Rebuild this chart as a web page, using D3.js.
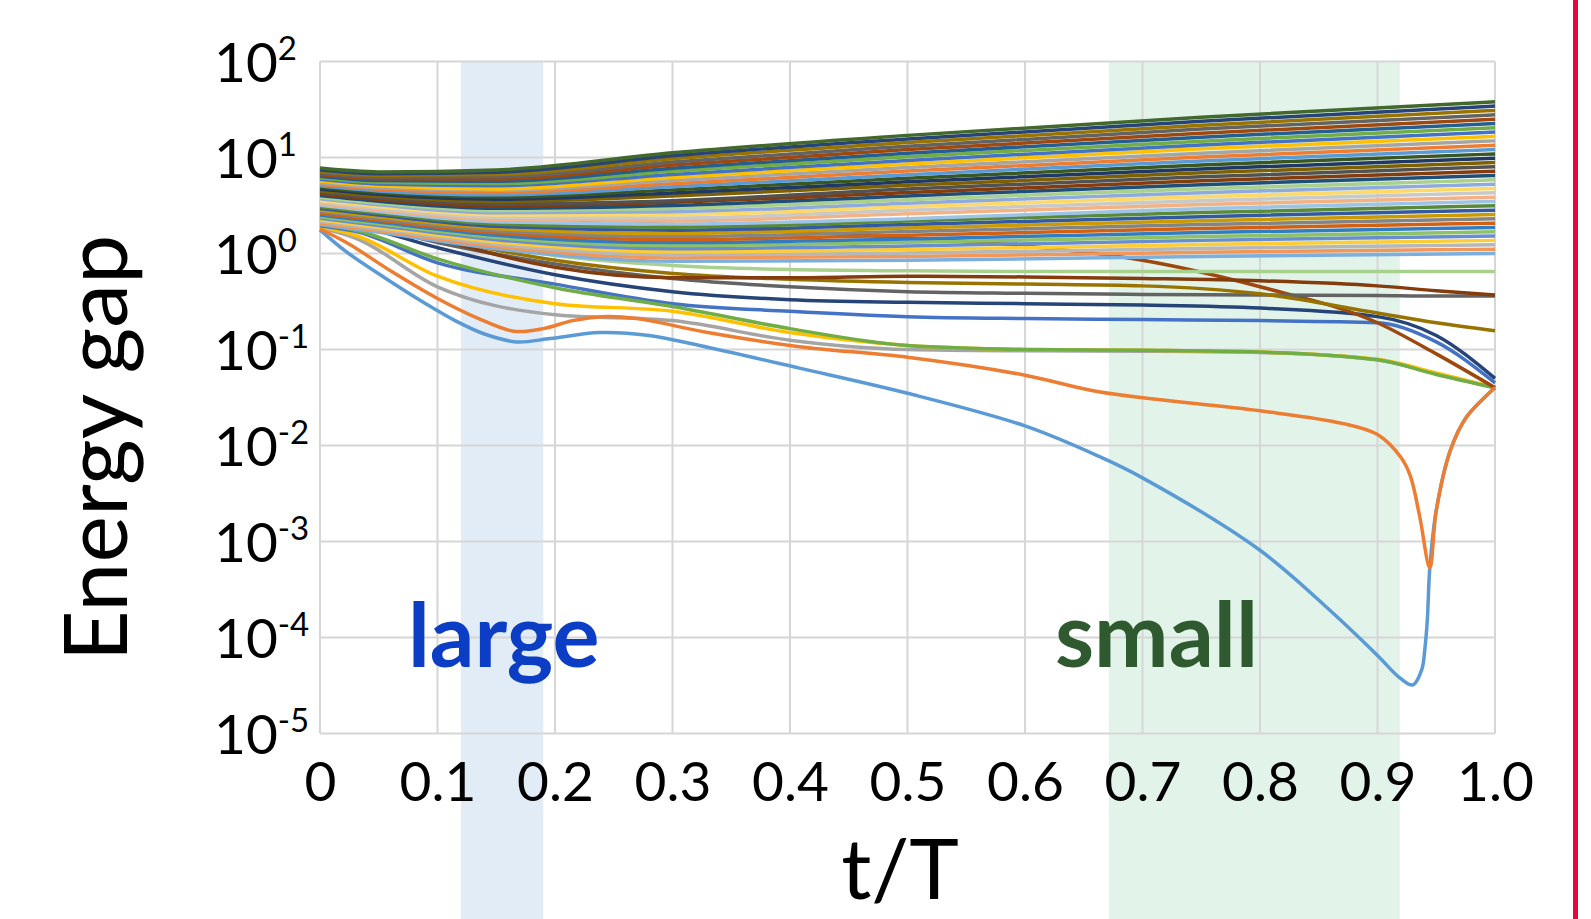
<!DOCTYPE html>
<html>
<head>
<meta charset="utf-8">
<script src="https://cdn.jsdelivr.net/npm/d3@7"></script>
<style>
  html, body { margin: 0; padding: 0; background: #fff; }
  svg { display: block; font-family: Lato, "Open Sans", sans-serif; }
</style>
</head>
<body>
<svg id="chart" width="1591" height="919"></svg>
<script>
// ---- data ----
const xTicks = [0, 0.1, 0.2, 0.3, 0.4, 0.5, 0.6, 0.7, 0.8, 0.9, 1.0];
const yTicks = [1e-5, 1e-4, 1e-3, 1e-2, 1e-1, 1, 10, 100];

// highlighted t/T ranges
const bandLarge = [0.12, 0.19];
const bandSmall = [0.6715, 0.919];

// lowest gap (E1-E0)
const gap1T = [0, 0.022, 0.056, 0.09, 0.115, 0.14, 0.167, 0.196, 0.238, 0.28, 0.323, 0.408, 0.5, 0.6, 0.664, 0.7, 0.8, 0.862, 0.9, 0.919, 0.93, 0.9376, 0.9405, 0.9425, 0.9445, 0.95, 0.962, 0.976, 1.0];
const gap1 = [1.76, 1.05, 0.55, 0.3, 0.2, 0.145, 0.12, 0.13, 0.15, 0.14, 0.11, 0.064, 0.035, 0.016, 0.0076, 0.0046, 0.00081, 0.00018, 0.000065, 0.000038, 0.000032, 0.000046, 0.00008, 0.00016, 0.00053, 0.0021, 0.0089, 0.02, 0.04];

// second gap (E2-E0)
const gap2T = [0, 0.025, 0.06, 0.1, 0.135, 0.165, 0.19, 0.215, 0.24, 0.27, 0.33, 0.408, 0.5, 0.6, 0.664, 0.8, 0.87, 0.9, 0.92, 0.928, 0.936, 0.9445, 0.95, 0.962, 0.976, 1.0];
const gap2 = [1.8, 1.25, 0.66, 0.34, 0.21, 0.155, 0.165, 0.2, 0.22, 0.21, 0.15, 0.107, 0.083, 0.054, 0.036, 0.023, 0.017, 0.013, 0.0075, 0.0048, 0.0018, 0.00053, 0.0021, 0.0089, 0.02, 0.04];

// next low-lying gaps on a shared grid
const lowT = [0, 0.03, 0.1, 0.2, 0.3, 0.4, 0.5, 0.6, 0.7, 0.8, 0.9, 0.95, 1.0];
const gap3 = [1.85, 1.45, 0.45, 0.23, 0.2, 0.125, 0.1, 0.097, 0.096, 0.093, 0.078, 0.056, 0.04];
const gap4 = [1.9, 1.55, 0.58, 0.3, 0.25, 0.15, 0.11, 0.1, 0.098, 0.094, 0.079, 0.057, 0.04];
const gap5 = [1.95, 1.7, 0.8, 0.48, 0.3, 0.25, 0.22, 0.21, 0.205, 0.2, 0.19, 0.12, 0.045];
const gap6 = [2.0, 1.75, 0.88, 0.44, 0.28, 0.165, 0.11, 0.1, 0.098, 0.094, 0.078, 0.055, 0.04];
const gap7 = [2.15, 1.95, 1.15, 0.6, 0.4, 0.33, 0.31, 0.3, 0.29, 0.27, 0.22, 0.14, 0.05];
const gap8 = [3.6, 3.4, 2.8, 2.3, 2.0, 1.7, 1.45, 1.2, 0.85, 0.45, 0.19, 0.09, 0.04];
const gap9 = [2.3, 2.1, 1.3, 0.78, 0.55, 0.45, 0.4, 0.385, 0.375, 0.37, 0.365, 0.36, 0.36];
const gap10 = [2.5, 2.3, 1.45, 0.85, 0.62, 0.54, 0.5, 0.48, 0.46, 0.38, 0.24, 0.19, 0.157];
const gap11 = [2.7, 2.5, 1.6, 0.95, 0.75, 0.68, 0.66, 0.65, 0.65, 0.65, 0.65, 0.65, 0.65];
const gap12 = [3.2, 2.9, 1.45, 0.72, 0.56, 0.56, 0.58, 0.57, 0.55, 0.52, 0.46, 0.41, 0.37];

// upper fan of gaps
const fanT = [0, 0.05, 0.15, 0.3, 0.5, 0.75, 1.0];
const fanGaps = [
  [2.00, 1.66, 1.12, 0.83, 0.85, 0.93, 1.00],
  [2.07, 1.73, 1.18, 0.90, 0.93, 1.03, 1.11],
  [2.16, 1.80, 1.25, 0.97, 1.01, 1.13, 1.23],
  [2.24, 1.88, 1.32, 1.04, 1.10, 1.24, 1.37],
  [2.33, 1.96, 1.39, 1.12, 1.20, 1.37, 1.52],
  [2.42, 2.04, 1.47, 1.21, 1.31, 1.50, 1.68],
  [2.52, 2.13, 1.55, 1.30, 1.42, 1.65, 1.87],
  [2.62, 2.22, 1.64, 1.40, 1.55, 1.82, 2.07],
  [2.72, 2.31, 1.73, 1.51, 1.69, 2.00, 2.30],
  [2.83, 2.41, 1.82, 1.62, 1.84, 2.20, 2.55],
  [2.94, 2.51, 1.92, 1.75, 2.00, 2.42, 2.83],
  [3.06, 2.62, 2.03, 1.88, 2.18, 2.67, 3.14],
  [3.18, 2.73, 2.14, 2.03, 2.30, 2.93, 3.48],
  [3.30, 2.84, 2.26, 2.19, 2.59, 3.23, 3.86],
  [3.44, 2.96, 2.39, 2.35, 2.82, 3.55, 4.29],
  [3.57, 3.09, 2.52, 2.54, 3.07, 3.90, 4.75],
  [3.71, 3.22, 2.66, 2.73, 3.34, 4.30, 5.28],
  [3.86, 3.36, 2.81, 2.94, 3.64, 4.72, 5.85],
  [4.01, 3.50, 2.96, 3.17, 3.97, 5.20, 6.50],
  [4.17, 3.65, 3.13, 3.42, 4.32, 5.71, 7.21],
  [4.34, 3.80, 3.30, 3.55, 4.71, 6.29, 8.00],
  [4.51, 3.96, 3.48, 3.96, 5.13, 6.92, 8.87],
  [4.69, 4.13, 3.67, 4.27, 5.58, 7.60, 9.84],
  [4.87, 4.31, 3.88, 4.60, 6.08, 8.37, 10.9],
  [5.07, 4.49, 4.09, 4.95, 6.62, 9.21, 12.1],
  [5.26, 4.68, 4.32, 5.33, 7.22, 10.1, 13.4],
  [5.47, 4.87, 4.56, 5.75, 7.86, 11.1, 14.9],
  [5.69, 5.08, 4.70, 6.19, 8.57, 12.3, 16.6],
  [5.92, 5.30, 5.08, 6.67, 9.33, 13.5, 18.4],
  [6.15, 5.52, 5.36, 7.18, 10.2, 14.8, 20.4],
  [6.39, 5.75, 5.66, 7.74, 11.1, 16.3, 22.6],
  [6.65, 6.00, 5.97, 8.34, 12.1, 17.9, 25.1],
  [6.90, 6.25, 6.31, 8.98, 13.1, 19.8, 27.8],
  [7.18, 6.52, 6.65, 9.68, 14.3, 21.7, 30.9],
  [7.46, 6.79, 7.03, 10.4, 15.6, 23.9, 34.3],
  [7.76, 7.08, 7.41, 11.2, 17.0, 26.3, 38.0]
];

// Excel-like series colours
const palette = [
  "#5B9BD5", "#ED7D31", "#A5A5A5", "#FFC000", "#4472C4", "#70AD47",
  "#255E91", "#9E480E", "#636363", "#997300", "#264478", "#43682B",
  "#7CAFDD", "#F1975A", "#B7B7B7", "#FFCD33", "#698ED0", "#8CC168",
  "#327DC2", "#D26012", "#848484", "#CC9A00", "#335AA1", "#5A8A39",
  "#9DC3E6", "#F4B183", "#C9C9C9", "#FFD966", "#8FAADC", "#A9D18E",
  "#1F4E79", "#843C0C", "#525252", "#7F6000", "#203864", "#385723"
];

// ---- drawing ----
const svg = d3.select("#chart");
const W = 1591, H = 919;
const margin = { top: 61.5, left: 320, right: 96, bottom: 185.5 };
const width = W - margin.left - margin.right,
  height = H - margin.top - margin.bottom;

const x = d3.scaleLinear().domain([0, 1]).range([margin.left, margin.left + width]);
const y = d3.scaleLog().domain([1e-5, 100]).range([margin.top + height, margin.top]);

// shaded bands, running down past the axis
svg.append("rect")
  .attr("x", x(bandLarge[0])).attr("y", margin.top)
  .attr("width", x(bandLarge[1]) - x(bandLarge[0])).attr("height", H - margin.top)
  .attr("fill", "#e1ecf7");
svg.append("rect")
  .attr("x", x(bandSmall[0])).attr("y", margin.top)
  .attr("width", x(bandSmall[1]) - x(bandSmall[0])).attr("height", H - margin.top)
  .attr("fill", "#e2f4ea");

// grid
const grid = svg.append("g").attr("stroke", "#d6d6d6").attr("stroke-width", 2);
grid.selectAll(".vx").data(xTicks).join("line")
  .attr("x1", (d) => x(d)).attr("x2", (d) => x(d))
  .attr("y1", margin.top).attr("y2", margin.top + height);
grid.selectAll(".hy").data(yTicks).join("line")
  .attr("x1", margin.left).attr("x2", margin.left + width)
  .attr("y1", (d) => y(d)).attr("y2", (d) => y(d));

// series
const series = [
  { t: gap1T, v: gap1, c: palette[0], smooth: true },
  { t: gap2T, v: gap2, c: palette[1], smooth: true },
  { t: lowT, v: gap3, c: palette[2] },
  { t: lowT, v: gap4, c: palette[3] },
  { t: lowT, v: gap5, c: palette[4] },
  { t: lowT, v: gap6, c: palette[5] },
  { t: lowT, v: gap7, c: palette[10] },
  { t: lowT, v: gap8, c: palette[7] },
  { t: lowT, v: gap9, c: palette[8] },
  { t: lowT, v: gap10, c: palette[9] },
  { t: lowT, v: gap11, c: palette[29] },
  { t: lowT, v: gap12, c: palette[31] },
];
fanGaps.forEach((row, i) => {
  series.push({ t: fanT, v: row, c: palette[(i + 12) % palette.length] });
});

const line = d3.line()
  .x((d) => x(d[0]))
  .y((d) => y(d[1]))
  .curve(d3.curveMonotoneX);
const smoothLine = d3.line()
  .x((d) => x(d[0]))
  .y((d) => y(d[1]))
  .curve(d3.curveCatmullRom.alpha(0.5));

// the two lowest gaps go last so they sit on top
const order = series.slice(2).concat([series[0], series[1]]);
svg.append("g")
  .selectAll("path")
  .data(order)
  .join("path")
  .attr("fill", "none")
  .attr("stroke", (d) => d.c)
  .attr("stroke-width", 3.5)
  .attr("stroke-linejoin", "round")
  .attr("d", (d) => (d.smooth ? smoothLine : line)(d.t.map((t, i) => [t, d.v[i]])));

// x axis labels
const xAxis = svg.append("g")
  .attr("transform", `translate(0,${margin.top + height})`)
  .call(d3.axisBottom(x).tickValues(xTicks).tickSize(0)
    .tickFormat((d) => (d === 0 ? "0" : d.toFixed(1))));
xAxis.select(".domain").remove();
xAxis.selectAll("text")
  .attr("y", 67).attr("dy", null)
  .attr("font-size", 55).attr("font-family", "Lato, 'Open Sans', sans-serif")
  .attr("fill", "#000");

// y axis labels as 10^n
const yAxis = svg.append("g")
  .attr("transform", `translate(${margin.left},0)`)
  .call(d3.axisLeft(y).tickValues(yTicks).tickSize(0).tickFormat(""));
yAxis.select(".domain").remove();
const yl = yAxis.selectAll(".tick").append("text")
  .attr("x", -106).attr("y", 20)
  .attr("text-anchor", "start")
  .attr("fill", "#000")
  .attr("font-family", "Lato, 'Open Sans', sans-serif");
yl.append("tspan").attr("font-size", 55).text("10");
yl.append("tspan").attr("font-size", 33).attr("dy", -22)
  .text((d) => Math.round(Math.log10(d)));

// axis titles
svg.append("text")
  .attr("transform", `translate(127,448) rotate(-90)`)
  .attr("text-anchor", "middle")
  .attr("font-size", 88)
  .attr("fill", "#000")
  .text("Energy gap");
svg.append("text")
  .attr("x", 900).attr("y", 899)
  .attr("text-anchor", "middle")
  .attr("font-size", 84)
  .attr("fill", "#000")
  .text("t/T");

// band annotations
svg.append("text")
  .attr("x", 408).attr("y", 667)
  .attr("font-size", 88).attr("font-weight", "bold")
  .attr("fill", "#0b3ec4")
  .text("large");
svg.append("text")
  .attr("x", 1055).attr("y", 667)
  .attr("font-size", 89).attr("font-weight", "bold")
  .attr("fill", "#2f5a2f")
  .text("small");

// red frame edge on the right
svg.append("line")
  .attr("x1", 1575.5).attr("x2", 1575.5)
  .attr("y1", 0).attr("y2", H)
  .attr("stroke", "#e3093c").attr("stroke-width", 5);
</script>
</body>
</html>
